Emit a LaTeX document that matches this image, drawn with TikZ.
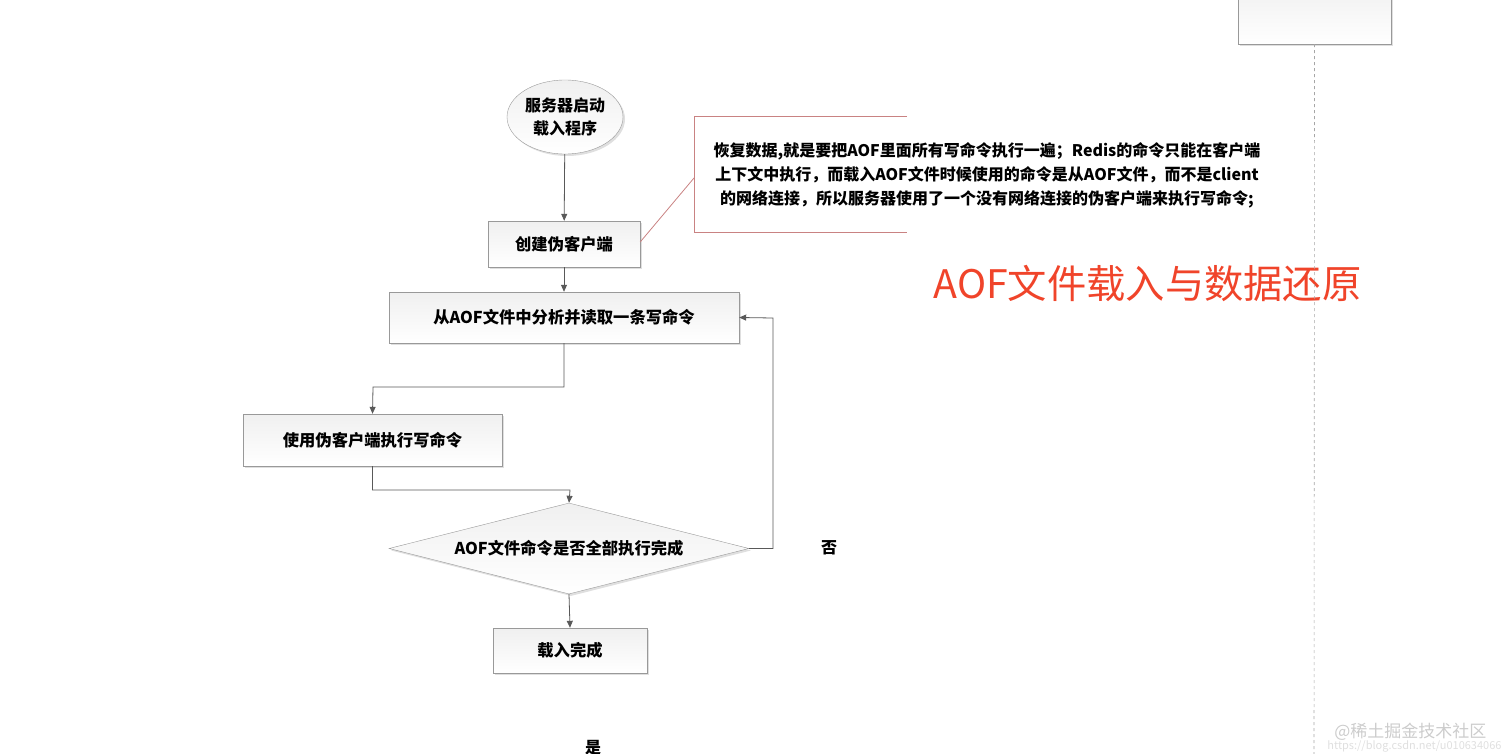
\documentclass[tikz,border=0pt]{standalone}
\usepackage{fontspec}
\setmainfont{Noto Sans CJK SC}
\usetikzlibrary{shapes.geometric,arrows.meta,shadows}
\definecolor{titlered}{HTML}{F0442A}
\begin{document}
\begin{tikzpicture}[x=1pt,y=-1pt,
  bx/.style={draw=gray!80,top color=gray!12,bottom color=white,drop shadow={opacity=0.25,shadow xshift=2pt,shadow yshift=-2pt},inner sep=0pt,font=\fontsize{16.3}{19}\selectfont\bfseries},
  arr/.style={draw=gray!70!black,line width=0.8pt,-{Triangle[length=7pt,width=6pt]}},
  ann/.style={draw=red!40!gray!70,line width=0.8pt}]
\useasboundingbox (0,0) rectangle (1512,754);
\node[bx,ellipse,minimum width=116pt,minimum height=74pt,align=center,font=\fontsize{16}{23}\selectfont\bfseries] (start) at (565,117) {服务器启动\\载入程序};
\node[bx,minimum width=152pt,minimum height=46pt] (b1) at (564,244) {创建伪客户端};
\node[bx,minimum width=350pt,minimum height=51pt] (b2) at (564,317.5) {从AOF文件中分析并读取一条写命令};
\node[bx,minimum width=259pt,minimum height=52pt] (b3) at (372.5,440) {使用伪客户端执行写命令};
\node[bx,diamond,aspect=4,minimum width=360pt,minimum height=91pt] (d) at (569,548.5) {AOF文件命令是否全部执行完成};
\node[bx,minimum width=154pt,minimum height=45pt] (b4) at (570,650.5) {载入完成};
\node[bx,minimum width=153pt,minimum height=60pt] (tr) at (1314.5,14) {};
\node[font=\fontsize{16}{19}\selectfont\bfseries] (no) at (829,548) {否};
\node[font=\fontsize{16}{19}\selectfont\bfseries] (yes) at (593,748) {是};
\draw[arr] (start) -- (b1);
\draw[arr] (b1) -- (b2);
\draw[arr] (b2.south) |- (373,387) -- (b3.north);
\draw[arr] (b3.south) |- (570,490) -- (d.north);
\draw[arr] (d.east) -| (773,318) -- (b2.east);
\draw[arr] (d.south) -- (b4.north);
\coordinate (a1) at (907,116);
\coordinate (a2) at (694,116);
\coordinate (a3) at (694,232);
\coordinate (a4) at (907,232);
\coordinate (a5) at (694,178);
\draw[ann] (a1) -- (a2) -- (a3) -- (a4);
\draw[ann] (b1.east) ++(0,-2) -- (a5);
\node[align=center,font=\fontsize{16}{24}\selectfont\bfseries] (note) at (987,175) {恢复数据,就是要把AOF里面所有写命令执行一遍；Redis的命令只能在客户端\\上下文中执行，而载入AOF文件时候使用的命令是从AOF文件，而不是client\\的网络连接，所以服务器使用了一个没有网络连接的伪客户端来执行写命令;};
\node[text=titlered,font=\fontsize{39.3}{42}\selectfont,anchor=west] (title) at (930,283) {AOF文件载入与数据还原};
\coordinate (v2) at (1314,754);
\draw[gray!70,dashed,line width=0.6pt] (tr.south) -- (v2);
\node[text=gray!40,font=\fontsize{17}{18}\selectfont,anchor=east] (wm) at (1490,732) {@稀土掘金技术社区};
\node[text=gray!25,font=\fontsize{11}{12}\selectfont,anchor=east] (wm2) at (1505,746) {https://blog.csdn.net/u010634066};
\end{tikzpicture}
\end{document}
